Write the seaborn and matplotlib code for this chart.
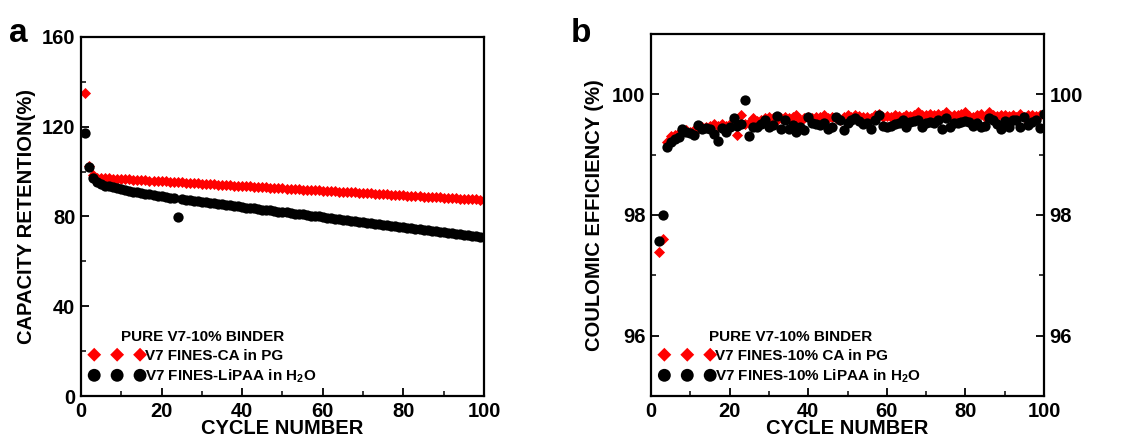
import matplotlib
matplotlib.use("Agg")
import matplotlib.pyplot as plt
from matplotlib.ticker import MultipleLocator
import seaborn as sns
import pandas as pd

# ---------------- data: panel a (capacity retention) ----------------
cycles_a = list(range(1, 101))
ret_ca = [135.0, 102.5, 98.5, 97.3, 97.2, 97.1, 97.0, 96.9, 96.8, 96.7,
          96.6, 96.5, 96.4, 96.3, 96.2, 96.1, 96.0, 95.9, 95.8, 95.7,
          95.6, 95.5, 95.4, 95.3, 95.2, 95.0, 94.9, 94.8, 94.7, 94.6,
          94.5, 94.4, 94.3, 94.2, 94.1, 94.0, 93.9, 93.8, 93.7, 93.6,
          93.5, 93.4, 93.3, 93.2, 93.1, 93.0, 92.9, 92.8, 92.7, 92.5,
          92.4, 92.3, 92.2, 92.1, 92.0, 91.9, 91.8, 91.7, 91.6, 91.5,
          91.4, 91.3, 91.2, 91.1, 91.0, 90.9, 90.8, 90.7, 90.6, 90.5,
          90.4, 90.3, 90.2, 90.1, 89.9, 89.8, 89.7, 89.6, 89.5, 89.4,
          89.3, 89.2, 89.1, 89.0, 88.9, 88.8, 88.7, 88.6, 88.5, 88.4,
          88.3, 88.2, 88.1, 88.0, 87.9, 87.8, 87.7, 87.6, 87.5, 87.4]
ret_lipaa = [117.0, 102.0, 97.0, 95.2, 94.3, 93.8, 93.4, 93.0, 92.6, 92.2,
             91.8, 91.4, 91.1, 90.8, 90.5, 90.2, 89.9, 89.6, 89.3, 89.0,
             88.7, 88.4, 88.1, 79.8, 87.6, 87.4, 87.2, 86.9, 86.7, 86.5,
             86.3, 86.0, 85.8, 85.6, 85.4, 85.1, 84.9, 84.7, 84.5, 84.2,
             84.0, 83.8, 83.6, 83.3, 83.1, 82.9, 82.7, 82.4, 82.2, 82.0,
             81.8, 81.5, 81.3, 81.1, 80.9, 80.6, 80.4, 80.2, 80.0, 79.7,
             79.5, 79.3, 79.1, 78.8, 78.6, 78.4, 78.2, 77.9, 77.7, 77.5,
             77.3, 77.0, 76.8, 76.6, 76.4, 76.1, 75.9, 75.7, 75.5, 75.2,
             75.0, 74.8, 74.6, 74.3, 74.1, 73.9, 73.7, 73.4, 73.2, 73.0,
             72.8, 72.5, 72.3, 72.1, 71.9, 71.6, 71.4, 71.2, 71.0, 70.7]

# ---------------- data: panel b (coulombic efficiency) ----------------
cycles_b = list(range(2, 101))
ce_ca = [97.38, 97.60, 99.20, 99.30, 99.33, 99.35, 99.40, 99.40, 99.38,
         99.40, 99.42, 99.45, 99.45, 99.47, 99.50, 99.48, 99.50, 99.48, 99.50,
         99.52, 99.32, 99.65, 99.50, 99.52, 99.60, 99.55, 99.58, 99.60, 99.63,
         99.60, 99.58, 99.60, 99.62, 99.60, 99.63, 99.65, 99.55, 99.60, 99.62,
         99.60, 99.63, 99.62, 99.65, 99.60, 99.62, 99.60, 99.58, 99.62, 99.65,
         99.63, 99.65, 99.64, 99.62, 99.63, 99.60, 99.65, 99.67, 99.63, 99.64,
         99.63, 99.65, 99.64, 99.63, 99.65, 99.64, 99.65, 99.70, 99.66, 99.65,
         99.67, 99.66, 99.68, 99.65, 99.70, 99.64, 99.65, 99.66, 99.68, 99.71,
         99.64, 99.63, 99.66, 99.68, 99.63, 99.70, 99.65, 99.64, 99.65, 99.66,
         99.64, 99.66, 99.63, 99.67, 99.63, 99.66, 99.65, 99.64, 99.66, 99.68]
ce_lipaa = [97.56, 98.00, 99.12, 99.21, 99.25, 99.29, 99.42, 99.38, 99.36,
            99.32, 99.49, 99.42, 99.44, 99.43, 99.34, 99.22, 99.44, 99.38, 99.45,
            99.60, 99.47, 99.50, 99.90, 99.30, 99.46, 99.45, 99.50, 99.57, 99.46,
            99.49, 99.64, 99.42, 99.57, 99.43, 99.49, 99.38, 99.46, 99.41, 99.62,
            99.53, 99.50, 99.49, 99.52, 99.43, 99.46, 99.63, 99.58, 99.41, 99.53,
            99.57, 99.60, 99.56, 99.50, 99.53, 99.43, 99.57, 99.66, 99.47, 99.45,
            99.47, 99.50, 99.52, 99.57, 99.45, 99.54, 99.56, 99.57, 99.45, 99.53,
            99.54, 99.52, 99.58, 99.43, 99.60, 99.45, 99.52, 99.53, 99.54, 99.56,
            99.54, 99.47, 99.52, 99.46, 99.47, 99.60, 99.58, 99.50, 99.43, 99.56,
            99.46, 99.58, 99.57, 99.45, 99.62, 99.49, 99.54, 99.58, 99.44, 99.67]

label_a_ca = "V7 FINES-CA in PG"
label_a_li = r"V7 FINES-LiPAA in H$_\mathbf{2}$O"
label_b_ca = "V7 FINES-10% CA in PG"
label_b_li = r"V7 FINES-10% LiPAA in H$_\mathbf{2}$O"
legend_title = "PURE V7-10% BINDER"

df_a = pd.concat([
    pd.DataFrame({"cycle": cycles_a, "value": ret_ca, "series": label_a_ca}),
    pd.DataFrame({"cycle": cycles_a, "value": ret_lipaa, "series": label_a_li}),
])
df_b = pd.concat([
    pd.DataFrame({"cycle": cycles_b, "value": ce_ca, "series": label_b_ca}),
    pd.DataFrame({"cycle": cycles_b, "value": ce_lipaa, "series": label_b_li}),
])

sns.set_style("ticks")
plt.rcParams["font.family"] = ["Liberation Sans", "DejaVu Sans"]
plt.rcParams["font.weight"] = "bold"
plt.rcParams["mathtext.fontset"] = "custom"
plt.rcParams["mathtext.bf"] = "Liberation Sans:bold"
plt.rcParams["mathtext.rm"] = "Liberation Sans:bold"
for k in ("text.color", "axes.labelcolor", "xtick.color", "ytick.color",
          "axes.edgecolor"):
    plt.rcParams[k] = "black"

fig = plt.figure(figsize=(11.37, 4.45), dpi=100)
ax1 = fig.add_axes([0.0712, 0.110, 0.3545, 0.807])
ax2 = fig.add_axes([0.5726, 0.110, 0.3456, 0.814])

RED = "#ff0000"
BLACK = "#000000"


def draw(ax, df, lab_ca, lab_li):
    sub_li = df[df["series"] == lab_li]
    sub_ca = df[df["series"] == lab_ca]
    sns.scatterplot(data=sub_ca, x="cycle", y="value", ax=ax, marker="D",
                    color=RED, s=32, linewidth=0, label=lab_ca, zorder=2)
    sns.scatterplot(data=sub_li, x="cycle", y="value", ax=ax, marker="o",
                    color=BLACK, s=55, linewidth=0, label=lab_li, zorder=3)


draw(ax1, df_a, label_a_ca, label_a_li)
draw(ax2, df_b, label_b_ca, label_b_li)

for ax in (ax1, ax2):
    ax.set_xlim(0, 100)
    ax.xaxis.set_major_locator(MultipleLocator(20))
    ax.xaxis.set_minor_locator(MultipleLocator(10))
    ax.tick_params(which="major", direction="in", length=6, width=1.3,
                   labelsize=14.5, pad=4)
    ax.tick_params(which="minor", direction="in", length=3.5, width=1.1)
    for sp in ax.spines.values():
        sp.set_linewidth(1.6)
        sp.set_visible(True)
    ax.set_xlabel("CYCLE NUMBER", fontsize=14.5, fontweight="bold", labelpad=-1)

ax1.set_ylim(0, 160)
ax1.yaxis.set_major_locator(MultipleLocator(40))
ax1.yaxis.set_minor_locator(MultipleLocator(20))
ax1.set_ylabel("CAPACITY RETENTION(%)", fontsize=14.5, fontweight="bold", labelpad=4)

ax2.set_ylim(95, 101)
ax2.yaxis.set_major_locator(MultipleLocator(2))
ax2.yaxis.set_minor_locator(MultipleLocator(1))
ax2.tick_params(which="both", right=True, labelright=True)
ax2.set_ylabel("COULOMIC EFFICIENCY (%)", fontsize=14.5, fontweight="bold", labelpad=6)

for ax in (ax1, ax2):
    for lab in ax.get_xticklabels() + ax.get_yticklabels():
        lab.set_fontweight("bold")
    h, l = ax.get_legend_handles_labels()
    leg = ax.legend(h, l, title=legend_title, loc="lower left", frameon=False,
                    scatterpoints=3, scatteryoffsets=[0.5], markerscale=1.25,
                    fontsize=11, title_fontsize=11,
                    handlelength=3.6, handletextpad=0.0, labelspacing=0.3,
                    borderaxespad=0.3, bbox_to_anchor=(-0.005, 0.0))
    leg.get_title().set_fontweight("bold")
    for t in leg.get_texts():
        t.set_fontweight("bold")

fig.text(0.008, 0.905, "a", fontsize=24, fontweight="bold")
fig.text(0.502, 0.905, "b", fontsize=24, fontweight="bold")

fig.savefig("out.png", dpi=100)
